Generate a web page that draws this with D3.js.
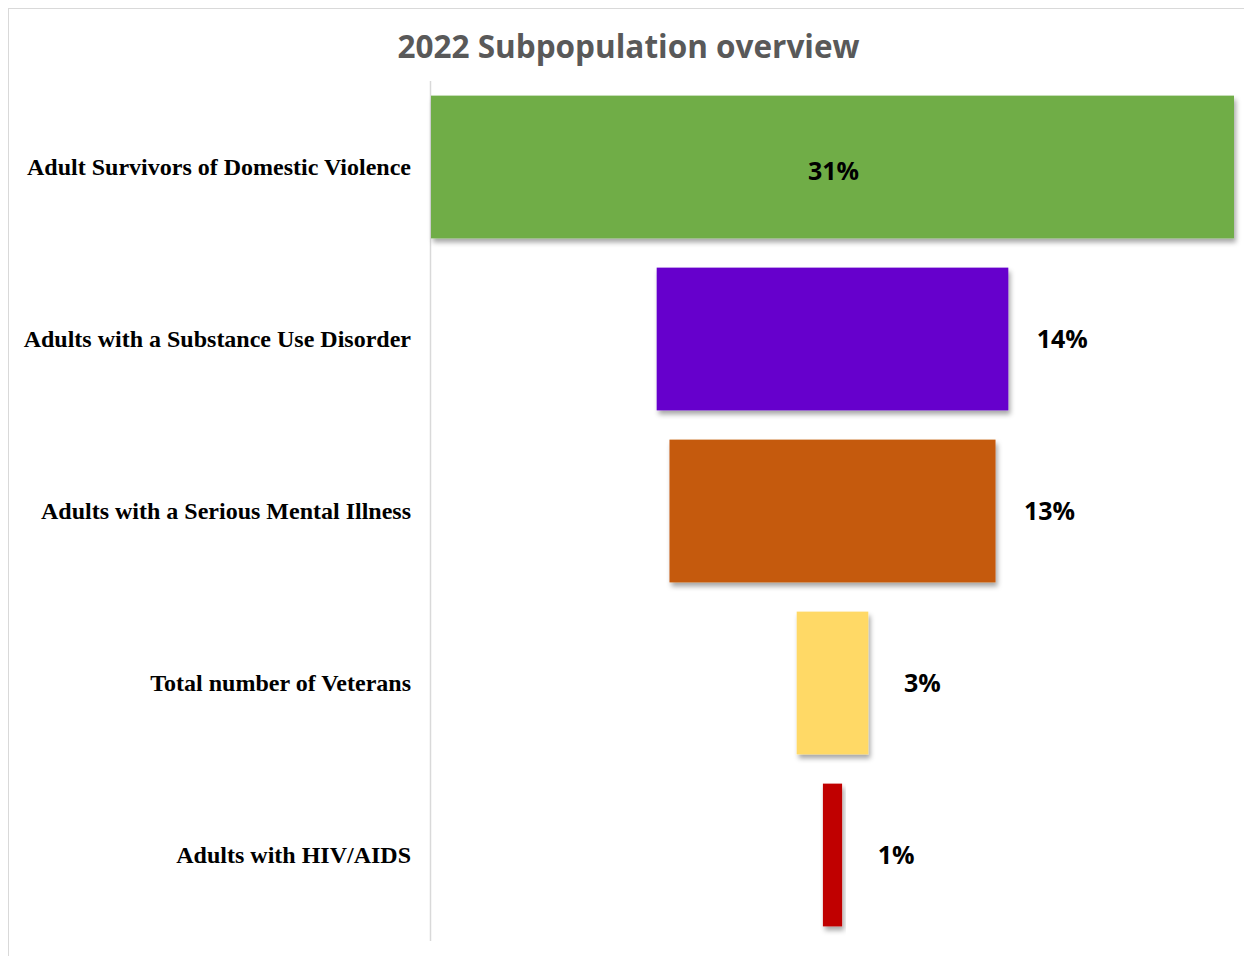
<!DOCTYPE html>
<html><head><meta charset="utf-8">
<script src="https://cdn.jsdelivr.net/npm/d3@7"></script>
<style>body{margin:0;background:#fff}svg{display:block}</style>
</head><body>
<svg id="chart" width="1244" height="956"></svg>
<script>
const categories = ["Adult Survivors of Domestic Violence","Adults with a Substance Use Disorder","Adults with a Serious Mental Illness","Total number of Veterans","Adults with HIV/AIDS"];
const values = [31.4, 13.75, 12.75, 2.8, 0.75];
const valueLabels = ["31%","14%","13%","3%","1%"];
const colors = ["#70AD47","#6600CC","#C55A11","#FFD966","#C00000"];
const title = "2022 Subpopulation overview";

const svg = d3.select("#chart");
const defs = svg.append("defs");
const f = defs.append("filter").attr("id","sh").attr("x","-10%").attr("y","-10%").attr("width","130%").attr("height","130%");
f.append("feDropShadow").attr("dx",2).attr("dy",4).attr("stdDeviation",2.5).attr("flood-color","#000").attr("flood-opacity",0.35);

// frame
svg.append("line").attr("x1",8).attr("x2",1244).attr("y1",8.5).attr("y2",8.5).attr("stroke","#d9d9d9");
svg.append("line").attr("x1",8.5).attr("x2",8.5).attr("y1",8).attr("y2",956).attr("stroke","#d9d9d9");

svg.append("text").attr("x",628.5).attr("y",58).attr("text-anchor","middle")
  .attr("font-family","Open Sans").attr("font-weight",700).attr("font-size",31.5).attr("fill","#595959").text(title);

const y = d3.scaleBand().domain(categories).range([81,941]).paddingInner(0.17).paddingOuter(0.085);
const w = d3.scaleLinear().domain([0, d3.max(values)]).range([0, 803]);
const cx = 832.5;

svg.append("line").attr("x1",430.5).attr("x2",430.5).attr("y1",81).attr("y2",941).attr("stroke","#d9d9d9").attr("stroke-width",1.5);

const g = svg.append("g");
g.selectAll("rect").data(categories).join("rect")
  .attr("x",(d,i)=>cx - w(values[i])/2)
  .attr("y",d=>y(d)).attr("width",(d,i)=>w(values[i])).attr("height",y.bandwidth())
  .attr("fill",(d,i)=>colors[i]).attr("filter","url(#sh)");

g.selectAll("text.cat").data(categories).join("text").attr("class","cat")
  .attr("x",411).attr("y",d=>y(d)+y.bandwidth()/2).attr("dy","0.35em").attr("text-anchor","end")
  .attr("font-family","Liberation Serif").attr("font-weight",700).attr("font-size",24).attr("fill","#000").text(d=>d);

g.selectAll("text.val").data(categories).join("text").attr("class","val")
  .attr("x",(d,i)=> i===0 ? cx + 1 : cx + w(values[i])/2 + 54)
  .attr("y",(d,i)=>y(d)+y.bandwidth()/2 + (i===0 ? 4 : 0)).attr("dy","0.35em").attr("text-anchor","middle")
  .attr("font-family","Open Sans").attr("font-weight",700).attr("font-size",25).attr("fill","#000")
  .text((d,i)=>valueLabels[i]);
</script>
</body></html>
